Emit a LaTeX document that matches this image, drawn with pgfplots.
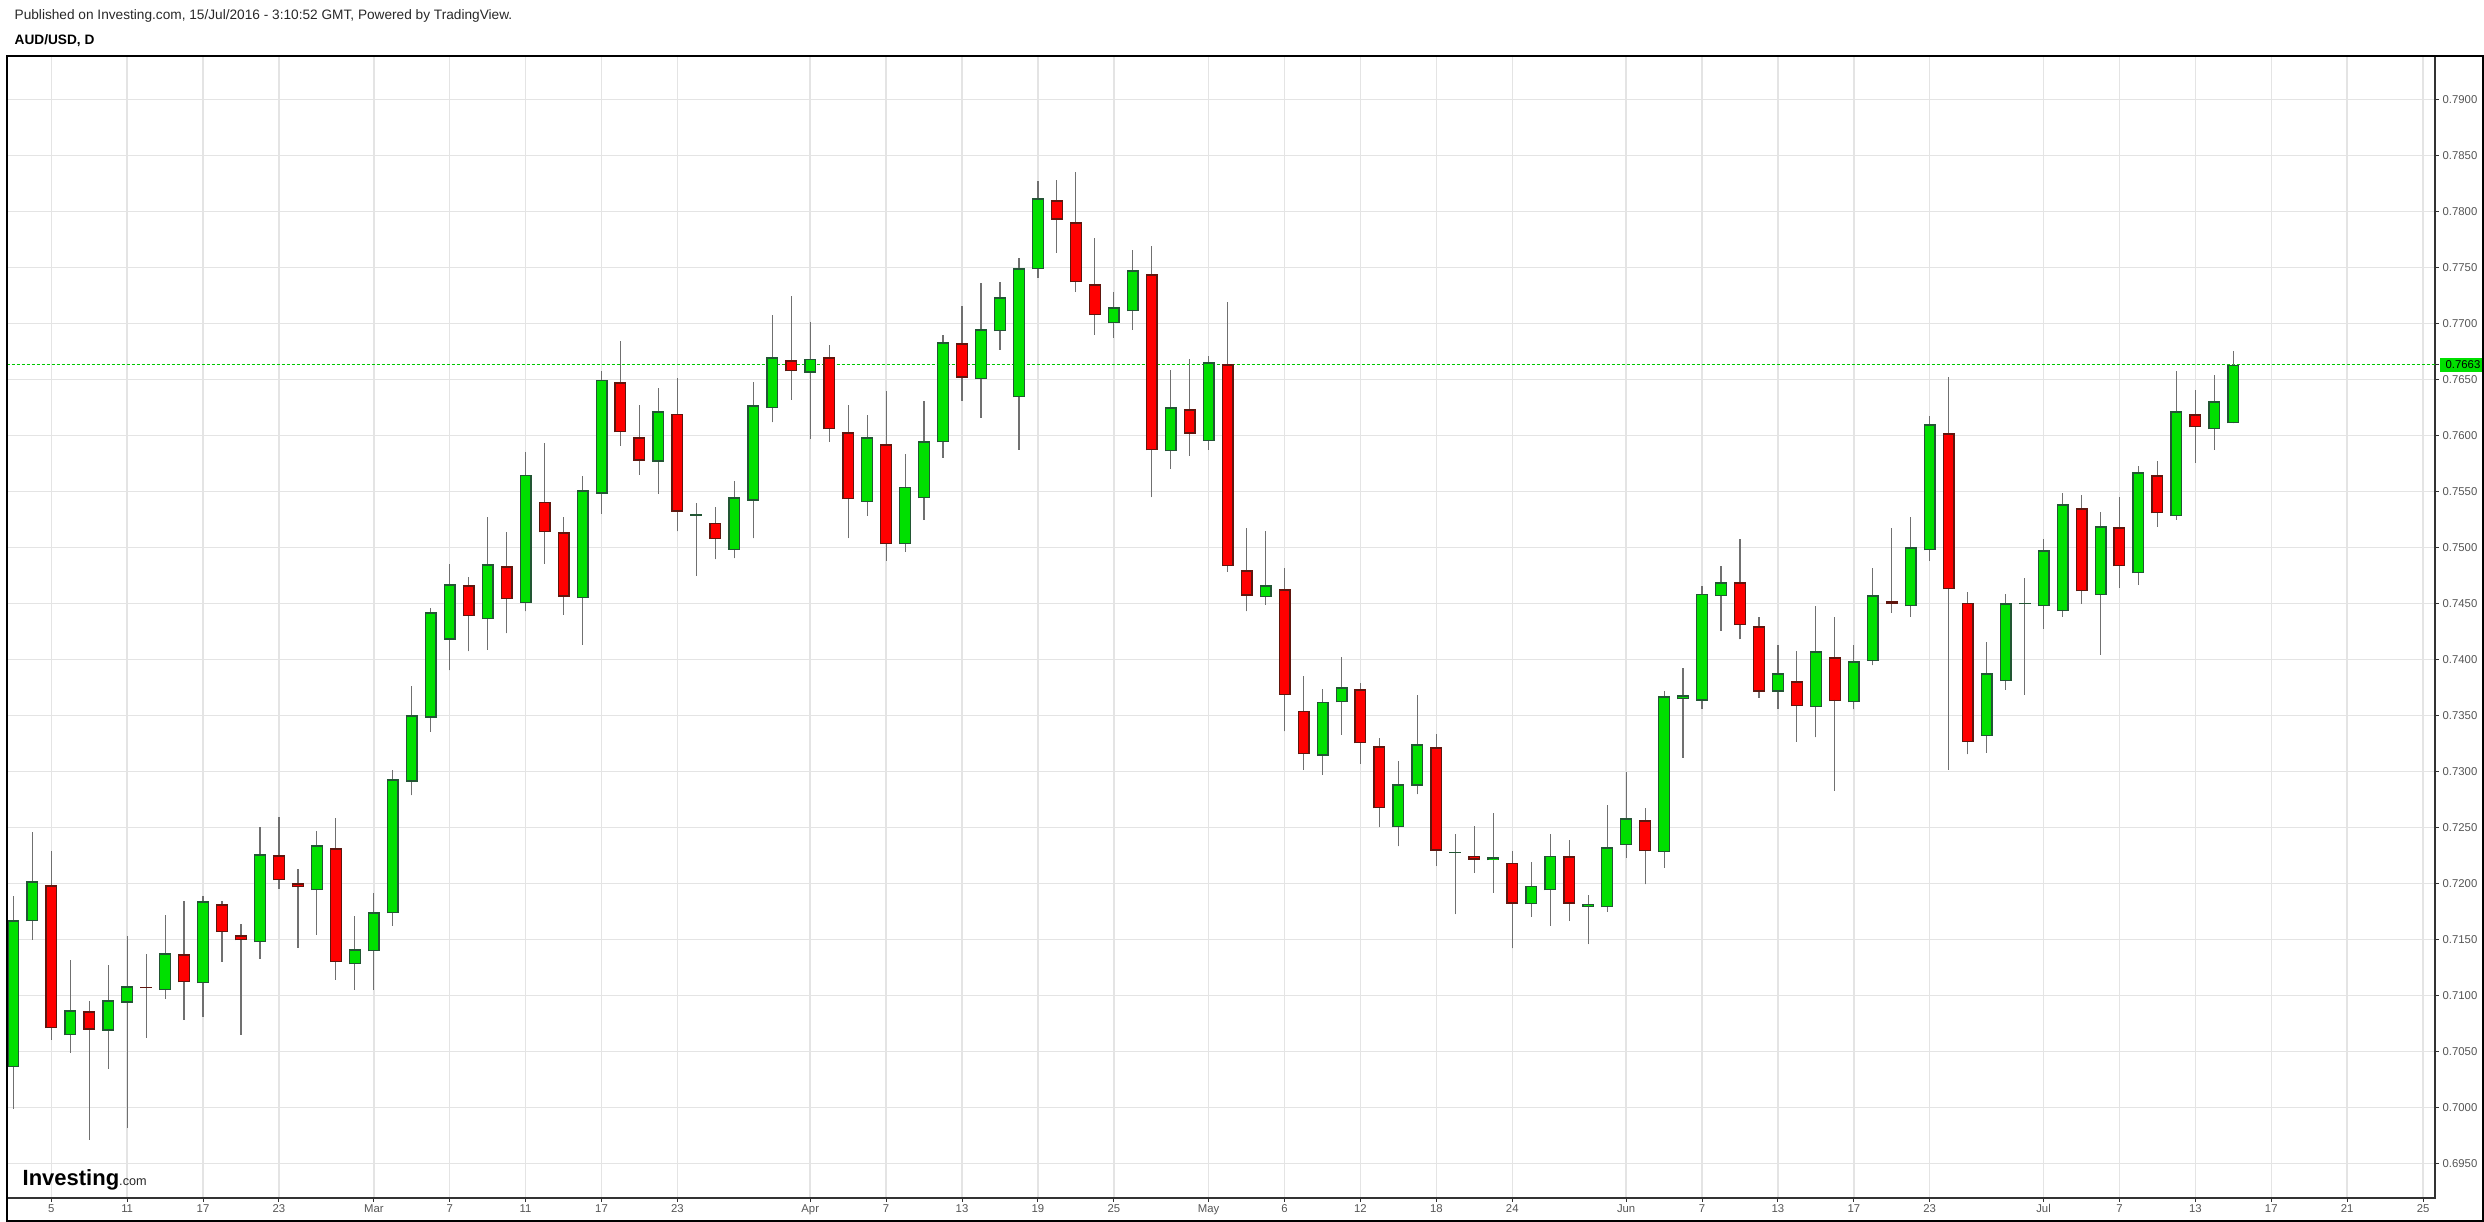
\documentclass[border=0pt]{standalone}
\usepackage{pgfplots}
\pgfplotsset{compat=1.18}
\usepackage{pgfplotstable}
\usepackage{fontspec}
\setmainfont{Liberation Sans}

\definecolor{cgreen}{RGB}{0,224,0}
\definecolor{cgreenline}{RGB}{34,86,52}
\definecolor{cred}{RGB}{255,0,0}
\definecolor{credline}{RGB}{96,22,14}
\definecolor{wickc}{RGB}{112,112,112}
\definecolor{gridc}{RGB}{228,228,228}
\definecolor{axisc}{RGB}{50,50,50}
\definecolor{tickc}{RGB}{85,85,85}
\definecolor{dotc}{RGB}{0,200,0}
\definecolor{headc}{RGB}{40,40,40}

\pgfplotstableread{
x o h l c
0 0.70357 0.71890 0.69988 0.71670
1 0.71661 0.72458 0.71497 0.72018
2 0.71982 0.72289 0.70604 0.70706
3 0.70643 0.71316 0.70488 0.70866
4 0.70857 0.70950 0.69712 0.70694
5 0.70685 0.71271 0.70345 0.70956
6 0.70935 0.71530 0.69819 0.71080
7 0.71074 0.71369 0.70622 0.71064
8 0.71045 0.71717 0.70970 0.71375
9 0.71366 0.71842 0.70783 0.71116
10 0.71107 0.71887 0.70810 0.71839
11 0.71813 0.71842 0.71301 0.71563
12 0.71536 0.71637 0.70649 0.71491
13 0.71473 0.72503 0.71327 0.72259
14 0.72250 0.72592 0.71952 0.72027
15 0.72000 0.72128 0.71426 0.71964
16 0.71938 0.72467 0.71542 0.72339
17 0.72313 0.72583 0.71140 0.71295
18 0.71277 0.71708 0.71051 0.71411
19 0.71393 0.71914 0.71051 0.71741
20 0.71732 0.73012 0.71622 0.72929
21 0.72906 0.73762 0.72786 0.73501
22 0.73480 0.74457 0.73355 0.74419
23 0.74174 0.74851 0.73900 0.74668
24 0.74660 0.74735 0.74070 0.74386
25 0.74357 0.75271 0.74087 0.74847
26 0.74831 0.75138 0.74232 0.74535
27 0.74502 0.75853 0.74427 0.75649
28 0.75408 0.75932 0.74855 0.75134
29 0.75134 0.75271 0.74398 0.74560
30 0.74544 0.75637 0.74132 0.75508
31 0.75479 0.76576 0.75300 0.76497
32 0.76472 0.76842 0.75907 0.76027
33 0.75982 0.76273 0.75649 0.75774
34 0.75766 0.76422 0.75479 0.76215
35 0.76194 0.76514 0.75142 0.75317
36 0.75283 0.75396 0.74747 0.75293
37 0.75221 0.75358 0.74893 0.75072
38 0.74976 0.75591 0.74901 0.75446
39 0.75417 0.76476 0.75080 0.76269
40 0.76244 0.77075 0.76115 0.76697
41 0.76668 0.77245 0.76318 0.76572
42 0.76559 0.77012 0.75969 0.76684
43 0.76697 0.76807 0.75944 0.76054
44 0.76027 0.76271 0.75081 0.75429
45 0.75405 0.76182 0.75283 0.75982
46 0.75920 0.76396 0.74881 0.75027
47 0.75027 0.75833 0.74962 0.75542
48 0.75438 0.76307 0.75247 0.75947
49 0.75938 0.76896 0.75801 0.76830
50 0.76822 0.77158 0.76310 0.76515
51 0.76500 0.77360 0.76158 0.76947
52 0.76929 0.77369 0.76765 0.77232
53 0.76339 0.77583 0.75872 0.77491
54 0.77482 0.78271 0.77408 0.78116
55 0.78098 0.78280 0.77631 0.77926
56 0.77902 0.78351 0.77283 0.77366
57 0.77348 0.77762 0.76899 0.77072
58 0.77000 0.77280 0.76872 0.77143
59 0.77107 0.77655 0.76944 0.77473
60 0.77438 0.77691 0.75447 0.75866
61 0.75857 0.76583 0.75703 0.76250
62 0.76232 0.76682 0.75819 0.76015
63 0.75947 0.76708 0.75872 0.76652
64 0.76634 0.77193 0.74783 0.74833
65 0.74795 0.75168 0.74429 0.74567
66 0.74555 0.75148 0.74488 0.74661
67 0.74626 0.74818 0.73356 0.73682
68 0.73537 0.73851 0.73014 0.73151
69 0.73140 0.73737 0.72971 0.73623
70 0.73615 0.74020 0.73328 0.73749
71 0.73733 0.73788 0.73069 0.73250
72 0.73222 0.73297 0.72503 0.72668
73 0.72499 0.73093 0.72330 0.72884
74 0.72872 0.73682 0.72794 0.73242
75 0.73214 0.73332 0.72157 0.72291
76 0.72270 0.72440 0.71725 0.72280
77 0.72247 0.72511 0.72094 0.72212
78 0.72204 0.72629 0.71917 0.72232
79 0.72184 0.72287 0.71418 0.71819
80 0.71811 0.72188 0.71701 0.71980
81 0.71937 0.72440 0.71622 0.72247
82 0.72240 0.72385 0.71666 0.71819
83 0.71791 0.71894 0.71457 0.71819
84 0.71784 0.72699 0.71748 0.72322
85 0.72342 0.72995 0.72230 0.72579
86 0.72563 0.72674 0.71990 0.72285
87 0.72278 0.73715 0.72139 0.73670
88 0.73643 0.73924 0.73122 0.73677
89 0.73632 0.74653 0.73559 0.74587
90 0.74563 0.74833 0.74257 0.74688
91 0.74688 0.75073 0.74177 0.74306
92 0.74295 0.74379 0.73656 0.73712
93 0.73712 0.74129 0.73559 0.73875
94 0.73802 0.74073 0.73264 0.73580
95 0.73573 0.74476 0.73302 0.74070
96 0.74018 0.74379 0.72827 0.73625
97 0.73615 0.74129 0.73552 0.73983
98 0.73983 0.74816 0.73945 0.74570
99 0.74518 0.75170 0.74417 0.74493
100 0.74472 0.75271 0.74382 0.75000
101 0.74972 0.76170 0.74882 0.76097
102 0.76017 0.76521 0.73014 0.74625
103 0.74507 0.74601 0.73150 0.73261
104 0.73313 0.74153 0.73167 0.73875
105 0.73806 0.74583 0.73729 0.74500
106 0.74490 0.74728 0.73685 0.74500
107 0.74473 0.75075 0.74271 0.74973
108 0.74429 0.75485 0.74381 0.75384
109 0.75348 0.75467 0.74497 0.74607
110 0.74572 0.75316 0.74042 0.75188
111 0.75179 0.75450 0.74640 0.74830
112 0.74768 0.75726 0.74667 0.75670
113 0.75643 0.75771 0.75185 0.75304
114 0.75277 0.76574 0.75247 0.76214
115 0.76188 0.76405 0.75756 0.76071
116 0.76054 0.76539 0.75872 0.76304
117 0.76107 0.76753 0.76107 0.76630
}\candles

\pgfplotsset{candle/.style={only marks, mark=*, mark size=0pt,
  mark options={draw=none, fill=none}, forget plot,
  error bars/.cd, y dir=plus, y explicit, error mark=none}}

\begin{document}
\begin{tikzpicture}[x=1pt,y=1pt]
\useasboundingbox (0,0) rectangle (745.2,366.6);
\node[anchor=west, inner sep=0pt, text=headc, font=\fontsize{4.1}{5}\selectfont] at (4.2,361.8) {Published on Investing.com, 15/Jul/2016 - 3:10:52 GMT, Powered by TradingView.};
\node[anchor=west, inner sep=0pt, text=black, font=\bfseries\fontsize{4.1}{5}\selectfont] at (4.2,354.3) {AUD/USD, D};
\begin{axis}[
  at={(2.0pt,7.2pt)}, anchor=south west,
  scale only axis, width=728.5pt, height=342.6pt,
  xmin=-0.35, xmax=127.63, ymin=0.69190, ymax=0.79387,
  axis line style={draw=axisc, line width=0.45pt},
  xmajorgrids, ymajorgrids,
  major grid style={draw=gridc, line width=0.45pt},
  xtick={2,6,10,14,19,23,27,31,35,42,46,50,54,58,63,67,71,75,79,85,89,93,97,101,107,111,115,119,123,127},
  xticklabels={5,11,17,23,Mar,7,11,17,23,Apr,7,13,19,25,May,6,12,18,24,Jun,7,13,17,23,Jul,7,13,17,21,25},
  ytick={0.695,0.700,0.705,0.710,0.715,0.720,0.725,0.730,0.735,0.740,0.745,0.750,0.755,0.760,0.765,0.770,0.775,0.780,0.785,0.790},
  xtick pos=bottom, ytick pos=right, yticklabel pos=right,
  tick align=outside, major tick length=1.2pt,
  tick style={draw=axisc, line width=0.3pt},
  scaled y ticks=false,
  /pgf/number format/assume math mode=true,
  yticklabel style={/pgf/number format/fixed, /pgf/number format/fixed zerofill, /pgf/number format/precision=4,
    font=\fontsize{3.4}{4}\selectfont, text=tickc, anchor=west, inner sep=0pt, xshift=0.9pt},
  xticklabel style={font=\fontsize{3.4}{4}\selectfont, text=tickc, anchor=north, inner sep=0pt, yshift=-0.6pt},
  extra y ticks={0.7663},
  extra y tick style={
    major grid style={draw=dotc, line width=0.3pt, dash pattern=on 0.9pt off 0.6pt},
    yticklabel style={/pgf/number format/fixed, /pgf/number format/fixed zerofill, /pgf/number format/precision=4,
      font=\fontsize{3.4}{4}\selectfont, fill=cgreen, text=black, anchor=west,
      inner xsep=1.8pt, inner ysep=0.9pt, xshift=-0.9pt}},
]
% wicks
\addplot[candle, error bar style={draw=wickc, line width=0.35pt}]
  table[x=x, y=l, y error plus expr=\thisrow{h}-\thisrow{l}] {\candles};
% green bodies: outline then fill
\addplot[candle, error bar style={draw=cgreenline, line width=3.6pt}]
  table[x=x, y expr={\thisrow{c}>=\thisrow{o} ? \thisrow{o} : nan},
        y error plus expr={max(\thisrow{c}-\thisrow{o},0.00012)}] {\candles};
\addplot[candle, error bar style={draw=cgreen, line width=2.8pt}]
  table[x=x, y expr={\thisrow{c}-\thisrow{o}>0.00026 ? \thisrow{o}+0.00012 : nan},
        y error plus expr={\thisrow{c}-\thisrow{o}-0.00024}] {\candles};
% red bodies: outline then fill
\addplot[candle, error bar style={draw=credline, line width=3.6pt}]
  table[x=x, y expr={\thisrow{o}>\thisrow{c} ? \thisrow{c} : nan},
        y error plus expr={max(\thisrow{o}-\thisrow{c},0.00012)}] {\candles};
\addplot[candle, error bar style={draw=cred, line width=2.8pt}]
  table[x=x, y expr={\thisrow{o}-\thisrow{c}>0.00026 ? \thisrow{c}+0.00012 : nan},
        y error plus expr={\thisrow{o}-\thisrow{c}-0.00024}] {\candles};
\end{axis}
\node[anchor=west, inner sep=0pt] at (6.6,12.6) {\fontsize{6.6}{7}\selectfont\bfseries Investing\fontsize{3.8}{4}\mdseries\color{headc}.com};
\draw[black, line width=0.6pt] (2.0,0.3) rectangle (744.9,349.8);
\end{tikzpicture}
\end{document}
